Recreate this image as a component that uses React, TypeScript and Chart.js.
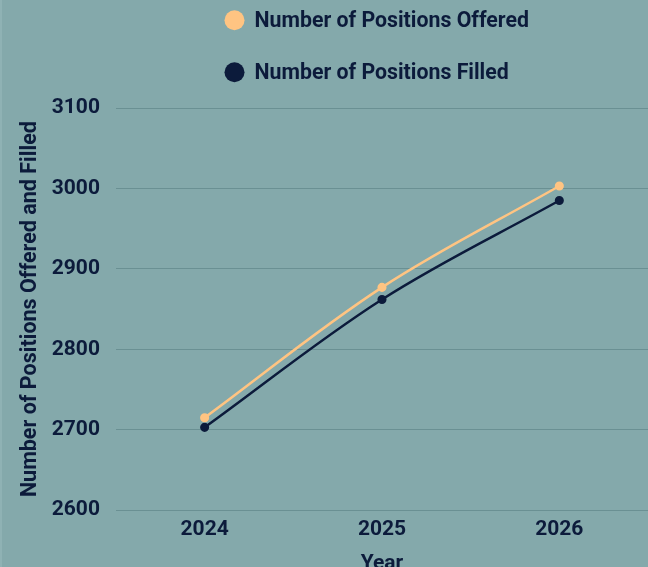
import React, { useEffect, useRef } from "react";
import { Chart, registerables } from "chart.js";

Chart.register(...registerables);

const years = ["2024", "2025", "2026"];
const offered = [2715, 2877, 3003];
const filled = [2703, 2862, 2985];
const seriesNames = ["Number of Positions Offered", "Number of Positions Filled"];
const yTitle = "Number of Positions Offered and Filled";
const xTitle = "Year";

const BG = "#84A9AB";
const NAVY = "#0C1B3B";
const ORANGE = "#FFC482";
const GRID = "#6A9093";
const FONT = "Roboto";

const stackedLegend = {
  id: "stackedLegend",
  afterDraw(chart: any, _args: any, opts: any) {
    const ctx = chart.ctx;
    ctx.save();
    chart.data.datasets.forEach((ds: any, i: number) => {
      const cy = opts.top + i * opts.rowGap;
      ctx.beginPath();
      ctx.fillStyle = ds.borderColor;
      ctx.arc(opts.left, cy, opts.radius, 0, Math.PI * 2);
      ctx.fill();
      ctx.fillStyle = NAVY;
      ctx.font = `bold ${opts.fontSize}px ${FONT}`;
      ctx.textBaseline = "middle";
      ctx.textAlign = "left";
      ctx.fillText(ds.label, opts.left + opts.radius + opts.textGap, cy + 1);
    });
    ctx.restore();
  },
};

export default function App() {
  const ref = useRef<HTMLCanvasElement | null>(null);
  useEffect(() => {
    document.body.style.margin = "0";
    const chart = new Chart(ref.current!, {
      type: "line",
      data: {
        labels: years,
        datasets: [
          {
            label: seriesNames[0],
            data: offered,
            borderColor: ORANGE,
            backgroundColor: ORANGE,
            borderWidth: 2.5,
            pointRadius: 3.3,
            pointBackgroundColor: ORANGE,
            pointBorderColor: ORANGE,
            tension: 0.35,
          },
          {
            label: seriesNames[1],
            data: filled,
            borderColor: NAVY,
            backgroundColor: NAVY,
            borderWidth: 2.5,
            pointRadius: 3.3,
            pointBackgroundColor: NAVY,
            pointBorderColor: NAVY,
            tension: 0.35,
          },
        ],
      },
      options: {
        animation: false,
        responsive: false,
        maintainAspectRatio: false,
        layout: { autoPadding: false, padding: { top: 108, left: 24.8, right: 0, bottom: 0 } },
        plugins: {
          legend: { display: false },
          tooltip: { enabled: false },
          stackedLegend: { left: 234.5, top: 20.3, rowGap: 52, radius: 10, textGap: 10, fontSize: 21.3 },
        } as any,
        scales: {
          x: {
            offset: true,
            grid: { display: false, drawTicks: false },
            border: { display: false },
            ticks: { color: NAVY, font: { family: FONT, size: 21, weight: "bold" }, padding: 7.4 },
            title: {
              display: true,
              text: xTitle,
              color: NAVY,
              font: { family: FONT, size: 21, weight: "bold", lineHeight: 0.99 },
              padding: { top: 3, bottom: 0 },
            },
          },
          y: {
            min: 2600,
            max: 3100,
            grid: { color: GRID, lineWidth: 1, drawTicks: false },
            border: { display: false },
            ticks: {
              stepSize: 100,
              color: NAVY,
              font: { family: FONT, size: 21, weight: "bold" },
              padding: 16,
              callback: (v: any) => String(v),
            },
            title: {
              display: true,
              text: yTitle,
              color: NAVY,
              font: { family: FONT, size: 21.5, weight: "bold", lineHeight: 0.51 },
              padding: { top: 0, bottom: 0 },
            },
          },
        },
      },
      plugins: [stackedLegend],
    });
    return () => chart.destroy();
  }, []);
  return (
    <div style={{ width: 648, height: 567, overflow: "hidden", background: BG, position: "relative" }}>
      <div style={{ position: "absolute", left: 0, top: 0, width: 2, height: 567, background: "#8FB2B4" }} />
      <canvas ref={ref} width={648} height={574} style={{ display: "block" }} />
    </div>
  );
}
